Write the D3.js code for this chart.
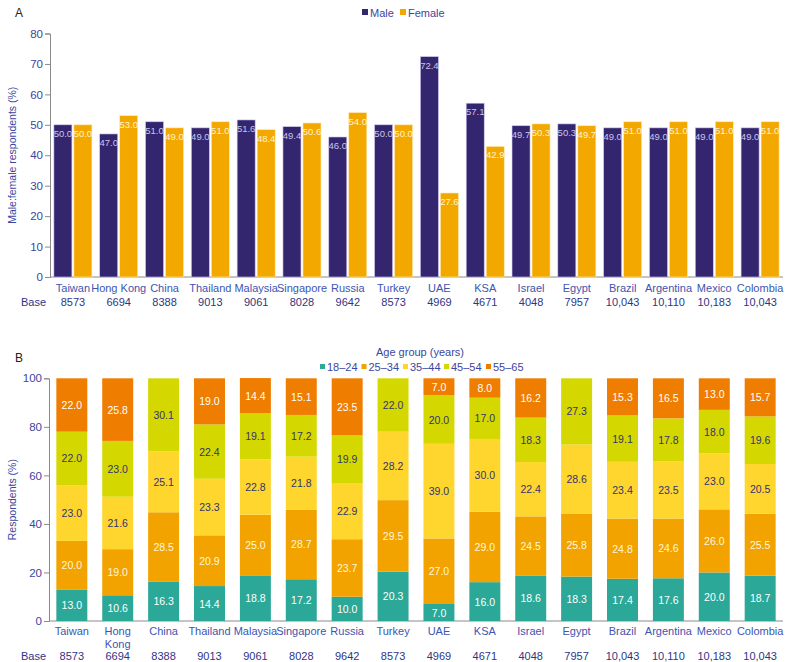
<!DOCTYPE html>
<html>
<head>
<meta charset="utf-8">
<script src="https://cdn.jsdelivr.net/npm/d3@7"></script>
<style>
  html, body { margin: 0; padding: 0; background: #fff; }
  svg { display: block; font-family: "Liberation Sans", Arial, sans-serif; }
</style>
</head>
<body>
<svg id="chart" width="789" height="662"></svg>
<script>
// ---------- DATA ----------
const countries = ["Taiwan","Hong Kong","China","Thailand","Malaysia","Singapore","Russia","Turkey","UAE","KSA","Israel","Egypt","Brazil","Argentina","Mexico","Colombia"];
const baseSizes = ["8573","6694","8388","9013","9061","8028","9642","8573","4969","4671","4048","7957","10,043","10,110","10,183","10,043"];
const maleValues =   [50.0,47.0,51.0,49.0,51.6,49.4,46.0,50.0,72.4,57.1,49.7,50.3,49.0,49.0,49.0,49.0];
const femaleValues = [50.0,53.0,49.0,51.0,48.4,50.6,54.0,50.0,27.6,42.9,50.3,49.7,51.0,51.0,51.0,51.0];
const genderSeries = ["Male","Female"];
const ageGroups = ["18–24","25–34","35–44","45–54","55–65"];
const age18_24 = [13.0,10.6,16.3,14.4,18.8,17.2,10.0,20.3,7.0,16.0,18.6,18.3,17.4,17.6,20.0,18.7];
const age25_34 = [20.0,19.0,28.5,20.9,25.0,28.7,23.7,29.5,27.0,29.0,24.5,25.8,24.8,24.6,26.0,25.5];
const age35_44 = [23.0,21.6,25.1,23.3,22.8,21.8,22.9,28.2,39.0,30.0,22.4,28.6,23.4,23.5,23.0,20.5];
const age45_54 = [22.0,23.0,30.1,22.4,19.1,17.2,19.9,22.0,20.0,17.0,18.3,27.3,19.1,17.8,18.0,19.6];
const age55_65 = [22.0,25.8,0,19.0,14.4,15.1,23.5,0,7.0,8.0,16.2,0,15.3,16.5,13.0,15.7];
const ticksA = [0,10,20,30,40,50,60,70,80];
const ticksB = [0,20,40,60,80,100];

// ---------- STYLE ----------
const genderColors = {"Male":"#33266f","Female":"#f3a800"};
const genderLabelColors = {"Male":"#c9c4ee","Female":"#fff3cf"};
const ageColors = ["#2ba898","#f2a300","#ffd62e","#d5d800","#ef7d00"];
const ageLabelColors = ["#ffffff","#fff6dc","#33336f","#33336f","#ffffff"];
const tickColor = "#3b46a0";
const catColor = "#3d55b0";
const baseColor = "#2f3585";
const axisColor = "#8a8a8a";

const svg = d3.select("#chart");

// ================= PANEL A =================
{
  const yTop = 33.5, yBot = 277, xL = 50, xR = 783;
  const y = d3.scaleLinear().domain([0,80]).range([yBot, yTop]);
  const x0 = d3.scaleBand().domain(countries).range([xL, xR]).paddingInner(0.17).paddingOuter(0.085);
  const x1 = d3.scaleBand().domain(genderSeries).range([0, x0.bandwidth()]).paddingInner(0.1);

  svg.append("text").attr("x", 15).attr("y", 17).attr("font-size", 12).attr("fill", "#222").text("A");

  const ax = svg.append("g").attr("transform", `translate(${xL},0)`)
    .call(d3.axisLeft(y).tickValues(ticksA).tickSize(5).tickPadding(2).tickFormat(d3.format("d")));
  ax.select(".domain").attr("stroke", axisColor);
  ax.selectAll(".tick line").attr("stroke", axisColor);
  ax.selectAll(".tick text").attr("fill", tickColor).attr("font-size", 11.5).attr("font-family", "Liberation Sans, Arial, sans-serif");

  svg.append("line").attr("x1", xL).attr("x2", xR).attr("y1", yBot).attr("y2", yBot).attr("stroke", axisColor);

  svg.append("text").attr("transform", `translate(16,${(yTop+yBot)/2}) rotate(-90)`)
    .attr("text-anchor", "middle").attr("font-size", 10.5).attr("fill", tickColor)
    .text("Male:female respondents (%)");

  const rows = countries.map((c,i) => ({c, vals: [{k:"Male", v: maleValues[i]}, {k:"Female", v: femaleValues[i]}]}));
  const g = svg.append("g").selectAll("g").data(rows).join("g")
    .attr("transform", d => `translate(${x0(d.c)},0)`);
  g.selectAll("rect").data(d => d.vals).join("rect")
    .attr("x", d => x1(d.k)).attr("width", x1.bandwidth())
    .attr("y", d => y(d.v)).attr("height", d => y(0) - y(d.v))
    .attr("fill", d => genderColors[d.k]).attr("stroke", d => d.k==="Male" ? "#cfc8f0" : "#ffe9b0").attr("stroke-width", 0.6);
  g.selectAll("text").data(d => d.vals).join("text")
    .attr("x", d => x1(d.k) + x1.bandwidth()/2).attr("y", d => y(d.v) + 12)
    .attr("text-anchor", "middle").attr("font-size", 9.5)
    .attr("fill", d => genderLabelColors[d.k])
    .text(d => d.v.toFixed(1));

  svg.append("g").selectAll("text").data(countries).join("text")
    .attr("x", d => x0(d) + x0.bandwidth()/2).attr("y", 292)
    .attr("text-anchor", "middle").attr("font-size", 11).attr("fill", catColor).text(d => d);
  svg.append("g").selectAll("text").data(baseSizes).join("text")
    .attr("x", (d,i) => x0(countries[i]) + x0.bandwidth()/2).attr("y", 306)
    .attr("text-anchor", "middle").attr("font-size", 11).attr("fill", baseColor).text(d => d);
  svg.append("text").attr("x", 21).attr("y", 306).attr("font-size", 11).attr("fill", baseColor).text("Base");

  // legend
  const lg = svg.append("g");
  const items = [{k:"Male", x:362}, {k:"Female", x:400}];
  items.forEach(it => {
    lg.append("rect").attr("x", it.x).attr("y", 9).attr("width", 6).attr("height", 6).attr("fill", genderColors[it.k]);
    lg.append("text").attr("x", it.x + 8).attr("y", 16.5).attr("font-size", 11).attr("fill", tickColor).text(it.k);
  });
}

// ================= PANEL B =================
{
  const yTop = 378.3, yBot = 621, xL = 49, xR = 783;
  const y = d3.scaleLinear().domain([0,100]).range([yBot, yTop]);
  const x = d3.scaleBand().domain(countries).range([xL, xR]).paddingInner(0.325).paddingOuter(0.16);

  svg.append("text").attr("x", 15).attr("y", 362).attr("font-size", 12).attr("fill", "#222").text("B");

  const ax = svg.append("g").attr("transform", `translate(${xL},0)`)
    .call(d3.axisLeft(y).tickValues(ticksB).tickSize(5).tickPadding(2).tickFormat(d3.format("d")));
  ax.select(".domain").attr("stroke", axisColor);
  ax.selectAll(".tick line").attr("stroke", axisColor);
  ax.selectAll(".tick text").attr("fill", tickColor).attr("font-size", 11.5).attr("font-family", "Liberation Sans, Arial, sans-serif");
  svg.append("line").attr("x1", xL).attr("x2", xR).attr("y1", yBot).attr("y2", yBot).attr("stroke", axisColor);

  svg.append("text").attr("transform", `translate(16,${(yTop+yBot)/2}) rotate(-90)`)
    .attr("text-anchor", "middle").attr("font-size", 10.5).attr("fill", tickColor)
    .text("Respondents (%)");

  const ageArrays = [age18_24, age25_34, age35_44, age45_54, age55_65];
  const rows = countries.map((c,i) => {
    const o = {country: c};
    ageGroups.forEach((a,j) => o[a] = ageArrays[j][i]);
    return o;
  });
  const stacked = d3.stack().keys(ageGroups)(rows);

  const layers = svg.append("g").selectAll("g").data(stacked).join("g")
    .attr("fill", (d,i) => ageColors[i]);
  layers.selectAll("rect").data(d => d).join("rect")
    .attr("x", d => x(d.data.country)).attr("width", x.bandwidth())
    .attr("y", d => y(d[1])).attr("height", d => y(d[0]) - y(d[1]));

  const lbl = svg.append("g").selectAll("g").data(stacked).join("g");
  lbl.each(function(layer, li) {
    d3.select(this).selectAll("text").data(layer.filter(d => d[1] - d[0] > 0)).join("text")
      .attr("x", d => x(d.data.country) + x.bandwidth()/2)
      .attr("y", d => (y(d[0]) + y(d[1]))/2 + 4)
      .attr("text-anchor", "middle").attr("font-size", 10.5)
      .attr("fill", ageLabelColors[li])
      .text(d => (d[1]-d[0]).toFixed(1));
  });

  const cat = svg.append("g").selectAll("text").data(countries).join("text")
    .attr("x", d => x(d) + x.bandwidth()/2).attr("y", 634.5)
    .attr("text-anchor", "middle").attr("font-size", 11).attr("fill", catColor);
  cat.each(function(d) {
    const t = d3.select(this);
    if (d === "Hong Kong") {
      t.append("tspan").attr("x", t.attr("x")).attr("dy", 0).text("Hong");
      t.append("tspan").attr("x", t.attr("x")).attr("dy", 13).text("Kong");
    } else t.text(d);
  });
  svg.append("g").selectAll("text").data(baseSizes).join("text")
    .attr("x", (d,i) => x(countries[i]) + x.bandwidth()/2).attr("y", 659.5)
    .attr("text-anchor", "middle").attr("font-size", 11).attr("fill", baseColor).text(d => d);
  svg.append("text").attr("x", 21).attr("y", 659.5).attr("font-size", 11).attr("fill", baseColor).text("Base");

  // legend
  svg.append("text").attr("x", 420).attr("y", 356).attr("text-anchor", "middle")
    .attr("font-size", 11).attr("fill", tickColor).text("Age group (years)");
  const lx = [320, 361.5, 403, 444, 486];
  ageGroups.forEach((a,i) => {
    svg.append("rect").attr("x", lx[i]).attr("y", 364).attr("width", 5).attr("height", 5).attr("fill", ageColors[i]);
    svg.append("text").attr("x", lx[i] + 7).attr("y", 370.5).attr("font-size", 11).attr("fill", tickColor).text(a);
  });
}
</script>
</body>
</html>
